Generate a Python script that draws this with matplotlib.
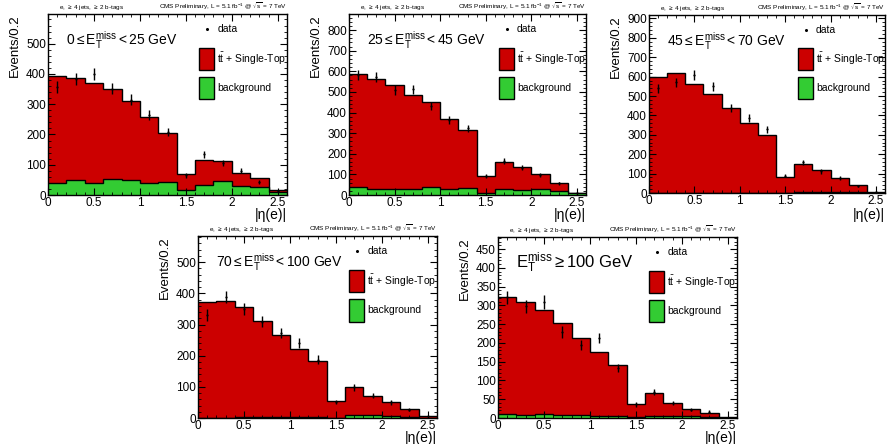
import numpy as np
import matplotlib
matplotlib.use('Agg')
import matplotlib.pyplot as plt
from matplotlib.ticker import MultipleLocator, FormatStrFormatter
from matplotlib.patches import Rectangle

plt.rcParams['font.family'] = ['Liberation Sans', 'DejaVu Sans']
plt.rcParams['mathtext.fontset'] = 'custom'
plt.rcParams['mathtext.rm'] = 'Liberation Sans'
plt.rcParams['mathtext.it'] = 'Liberation Sans:italic'
plt.rcParams['mathtext.cal'] = 'Liberation Sans'

# |eta(e)| bins, width 0.2
edges = np.arange(0, 2.61, 0.2)

# E_T^miss slices
labels = [r'$0 \leq \mathrm{E}_{\mathrm{T}}^{\mathrm{miss}} < 25$ GeV',
          r'$25 \leq \mathrm{E}_{\mathrm{T}}^{\mathrm{miss}} < 45$ GeV',
          r'$45 \leq \mathrm{E}_{\mathrm{T}}^{\mathrm{miss}} < 70$ GeV',
          r'$70 \leq \mathrm{E}_{\mathrm{T}}^{\mathrm{miss}} < 100$ GeV',
          r'$\mathrm{E}_{\mathrm{T}}^{\mathrm{miss}} \geq 100$ GeV']

# stacked total (ttbar + single top + background)
total_0_25 = [392, 388, 370, 350, 310, 257, 205, 68, 117, 112, 72, 55, 15]
total_25_45 = [586, 564, 536, 486, 449, 370, 315, 94, 162, 137, 102, 60, 11]
total_45_70 = [600, 617, 563, 509, 436, 360, 300, 81, 151, 117, 75, 41, 5]
total_70_100 = [372, 374, 356, 310, 265, 222, 182, 54, 99, 69, 51, 28, 6]
total_100 = [322, 309, 287, 253, 214, 176, 142, 36, 67, 41, 24, 13, 2]

# background only
bkg_0_25 = [38, 50, 38, 53, 48, 40, 42, 15, 33, 45, 30, 27, 10]
bkg_25_45 = [37, 31, 29, 29, 40, 29, 32, 11, 29, 26, 29, 21, 8]
bkg_45_70 = [1, 1, 1, 1, 1, 1, 1, 1, 3, 3, 3, 3, 0]
bkg_70_100 = [1, 1, 3, 3, 2, 2, 2, 1, 11, 9, 8, 4, 1]
bkg_100 = [10, 8, 10, 8, 8, 6, 6, 2, 6, 4, 4, 2, 0]

# data
data_0_25 = [357, 382, 401, 351, 315, 263, 208, 65, 134, 105, 80, 42, 12]
data_25_45 = [582, 573, 510, 512, 432, 363, 323, 93, 165, 133, 95, 57, 10]
data_45_70 = [540, 570, 609, 551, 440, 386, 329, 90, 158, 111, 77, 35, 7]
data_70_100 = [330, 388, 350, 309, 272, 240, 187, 51, 98, 72, 50, 27, 5]
data_100 = [321, 298, 309, 229, 195, 213, 133, 36, 70, 40, 22, 17, 1]

totals = [total_0_25, total_25_45, total_45_70, total_70_100, total_100]
bkgs = [bkg_0_25, bkg_25_45, bkg_45_70, bkg_70_100, bkg_100]
datas = [data_0_25, data_25_45, data_45_70, data_70_100, data_100]
ymax = [598, 878, 918, 584, 482]
ymajor = [100, 100, 100, 100, 50]
yminor = [20, 20, 20, 20, 10]

# axes boxes in pixels: left, right, top, bottom
boxes = [(48, 287, 14, 195), (349, 586, 14, 195), (649, 885, 15, 193),
         (198, 437, 236, 418), (498, 737, 237, 418)]

W, H = 888, 444
fig = plt.figure(figsize=(W / 100, H / 100), dpi=100)
red = '#cc0000'
green = '#33cc33'

for i in range(5):
    l, r, t, b = boxes[i]
    ax = fig.add_axes([l / W, 1 - b / H, (r - l) / W, (b - t) / H])
    tot = np.array(totals[i])
    bkg = np.array(bkgs[i])
    dat = np.array(datas[i])
    ax.stairs(tot, edges, fill=True, color=red)
    ax.stairs(tot, edges, color='black', lw=1.0, baseline=None)
    ax.stairs(bkg, edges, fill=True, color=green)
    ax.stairs(bkg, edges, color='black', lw=1.0, baseline=None)
    centers = 0.5 * (edges[:-1] + edges[1:])
    ax.errorbar(centers, dat, yerr=np.sqrt(dat), fmt='o', ms=0.6, color='black',
                elinewidth=1.0, capsize=0)
    ax.set_xlim(0, 2.6)
    ax.set_ylim(0, ymax[i])
    ax.xaxis.set_major_locator(MultipleLocator(0.5))
    ax.xaxis.set_minor_locator(MultipleLocator(0.1))
    ax.xaxis.set_major_formatter(FormatStrFormatter('%g'))
    ax.yaxis.set_major_locator(MultipleLocator(ymajor[i]))
    ax.yaxis.set_minor_locator(MultipleLocator(yminor[i]))
    ax.tick_params(which='both', direction='in', top=True, right=True, labelsize=8.5, pad=1.5)
    ax.tick_params(which='major', length=5, width=0.8)
    ax.tick_params(which='minor', length=2.5, width=0.6)
    for s in ax.spines.values():
        s.set_linewidth(1.0)
    ax.set_ylabel('Events/0.2', loc='top', fontsize=9.5, labelpad=4)
    ylab = -0.125 if i == 2 else -0.108
    ax.text(1.0, ylab, '|η(e)|', transform=ax.transAxes, fontsize=10,
            ha='right', va='center')

    fs = 12 if i == 4 else 10
    ax.text(0.075, 0.856, labels[i], transform=ax.transAxes, fontsize=fs,
            va='center', ha='left')
    ax.text(0.046, 1.01, r'e, $\geq$ 4 jets, $\geq$ 2 b-tags', transform=ax.transAxes,
            fontsize=4.6, ha='left', va='bottom')
    ax.text(1.0, 1.01, r'CMS Preliminary, L = 5.1 fb$^{-1}$ @ $\sqrt{\mathrm{s}}$ = 7 TeV',
            transform=ax.transAxes, fontsize=4.6, ha='right', va='bottom')

    # legend
    ax.plot([0.665], [0.917], 'o', ms=1.2, color='black', transform=ax.transAxes)
    ax.text(0.708, 0.917, 'data', transform=ax.transAxes, fontsize=7.5, va='center')
    ax.add_patch(Rectangle((0.632, 0.69), 0.063, 0.122, transform=ax.transAxes,
                           facecolor=red, edgecolor='black', lw=1.0))
    ax.text(0.708, 0.751, r'$\mathrm{t\bar{t}}$ + Single-Top', transform=ax.transAxes,
            fontsize=7.5, va='center')
    ax.add_patch(Rectangle((0.632, 0.53), 0.063, 0.122, transform=ax.transAxes,
                           facecolor=green, edgecolor='black', lw=1.0))
    ax.text(0.708, 0.591, 'background', transform=ax.transAxes, fontsize=7.5, va='center')

fig.savefig('out.png', dpi=100)
